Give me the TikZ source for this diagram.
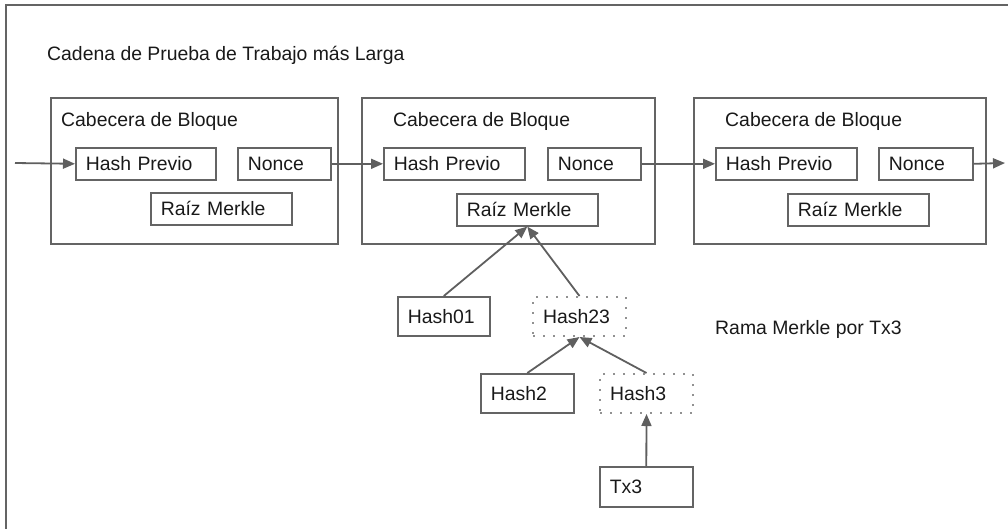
\documentclass[tikz,border=0pt]{standalone}
\usepackage{fontspec}
\setmainfont{Liberation Sans}
\usetikzlibrary{arrows.meta}
\definecolor{rahmen}{RGB}{100,100,100}
\definecolor{pfeil}{RGB}{95,95,95}
\definecolor{schrift}{RGB}{25,25,25}
\definecolor{punkte}{RGB}{145,145,145}
\newcommand{\schriftgr}{\fontsize{19.4}{23}\selectfont}
\tikzset{
	kasten/.style={draw=rahmen, line width=1.9pt, rectangle, anchor=north west, inner sep=0pt},
	feld/.style={draw=rahmen, line width=1.6pt, rectangle, anchor=north west, inner xsep=10pt, inner ysep=0pt, align=left, text=schrift, font=\schriftgr},
	gepunktet/.style={feld, draw=punkte, line width=2pt, dash pattern=on 2pt off 8pt},
	beschriftung/.style={anchor=base west, inner sep=0pt, text=schrift, font=\schriftgr},
	verbindung/.style={draw=pfeil, line width=1.8pt, -{Triangle[length=12pt,width=10pt]}}
}

\begin{document}
\begin{tikzpicture}[x=1pt, y=-1pt]

	\clip (0,0) rectangle (1008,528);
	\draw[rahmen, line width=2pt] (6,5) rectangle (1030,560);

	\node[beschriftung] (kette) at (47,60) {Cadena de Prueba de Trabajo más Larga};

	% Bloque 1
	\begin{scope}[shift={(50,97)}]
		\node[kasten, minimum width=287pt, minimum height=146pt] (block1) at (0,0) {};
		\node[beschriftung] (kopf1) at (11,29) {Cabecera de Bloque};
		\node[feld, text width=120pt, minimum height=32pt] (hp1) at (25,50) {Hash Previo};
		\node[feld, text width=73pt, minimum height=32pt] (nonce1) at (187,50) {Nonce};
		\node[feld, text width=121pt, minimum height=32pt] (wurzel1) at (100,95) {Raíz Merkle};
	\end{scope}

	% Bloque 2
	\begin{scope}[shift={(361,97)}]
		\node[kasten, minimum width=293pt, minimum height=146pt] (block2) at (0,0) {};
		\node[beschriftung] (kopf2) at (32,29) {Cabecera de Bloque};
		\node[feld, text width=121pt, minimum height=32pt] (hp2) at (22,50) {Hash Previo};
		\node[feld, text width=73pt, minimum height=32pt] (nonce2) at (186,50) {Nonce};
		\node[feld, text width=121pt, minimum height=32pt] (wurzel2) at (95,96) {Raíz Merkle};
	\end{scope}

	% Bloque 3
	\begin{scope}[shift={(693,97)}]
		\node[kasten, minimum width=292pt, minimum height=146pt] (block3) at (0,0) {};
		\node[beschriftung] (kopf3) at (32,29) {Cabecera de Bloque};
		\node[feld, text width=121pt, minimum height=32pt] (hp3) at (22,50) {Hash Previo};
		\node[feld, text width=74pt, minimum height=32pt] (nonce3) at (185,50) {Nonce};
		\node[feld, text width=121pt, minimum height=32pt] (wurzel3) at (94,96) {Raíz Merkle};
	\end{scope}

	\coordinate (rein) at (15,163);
	\coordinate (raus) at (1005,163);
	\draw[verbindung] (rein) -- (hp1.west);
	\draw[verbindung] (nonce1.east) -- (hp2.west);
	\draw[verbindung] (nonce2.east) -- (hp3.west);
	\draw[verbindung] (nonce3.east) -- (raus);

	% Rama Merkle
	\node[feld, text width=72pt, minimum height=39pt] (hash01) at (397,296) {Hash01};
	\node[gepunktet, text width=73pt, minimum height=39pt] (hash23) at (532,296) {Hash23};
	\node[feld, text width=73pt, minimum height=39pt] (hash2) at (480,373) {Hash2};
	\node[gepunktet, text width=73pt, minimum height=39pt] (hash3) at (599,373) {Hash3};
	\node[feld, text width=73pt, minimum height=40pt] (tx3) at (599,466) {Tx3};
	\node[beschriftung] (rama) at (715,334) {Rama Merkle por Tx3};

	\draw[verbindung] (hash01.north) -- (wurzel2.south);
	\draw[verbindung] (hash23.north) -- (wurzel2.south);
	\draw[verbindung] (hash2.north) -- (hash23.south);
	\draw[verbindung] (hash3.north) -- (hash23.south);
	\draw[verbindung] (tx3.north) -- (hash3.south);

\end{tikzpicture}
\end{document}
